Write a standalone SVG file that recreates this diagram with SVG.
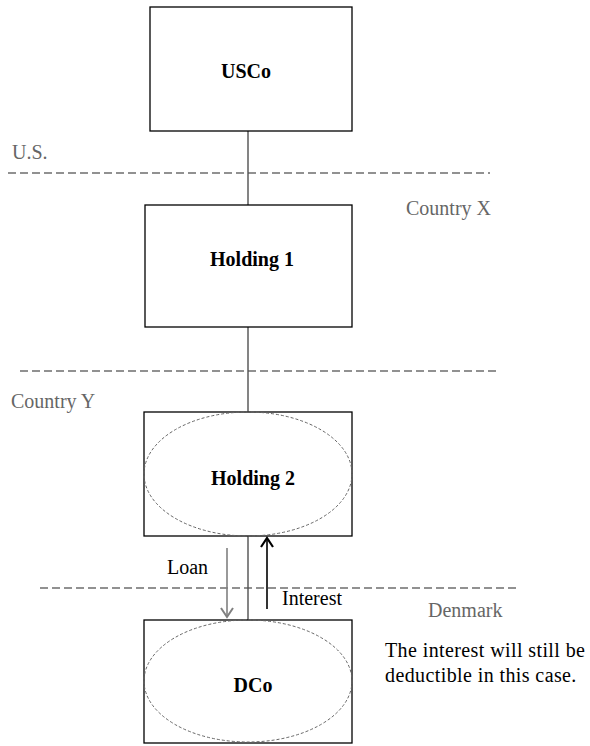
<svg xmlns="http://www.w3.org/2000/svg" width="590" height="746" viewBox="0 0 590 746">
  <style>
    .box { fill: #fff; stroke: #000; stroke-width: 1.3; }
    .oval { fill: none; stroke: #666; stroke-width: 1; stroke-dasharray: 3 2; }
    .name { font-family: "Liberation Serif", "Times New Roman", serif; font-size: 20px; font-weight: bold; fill: #000; text-anchor: middle; }
    .zone { font-family: "Liberation Serif", "Times New Roman", serif; font-size: 20px; fill: #666; }
    .label { font-family: "Liberation Serif", "Times New Roman", serif; font-size: 20px; fill: #000; }
    .note { letter-spacing: 0.4px; }
    .border { stroke: #6e6e6e; stroke-width: 1.5; stroke-dasharray: 8 4; fill: none; }
    .link { stroke: #505050; stroke-width: 1.4; fill: none; }
  </style>

  <!-- jurisdiction borders -->
  <g id="borders">
    <line class="border" x1="8" y1="173" x2="490" y2="173"/>
    <line class="border" x1="20" y1="371" x2="498" y2="371"/>
    <line class="border" x1="40" y1="588" x2="520" y2="588"/>
    <text class="zone" x="12" y="159">U.S.</text>
    <text class="zone" x="406" y="215">Country X</text>
    <text class="zone" x="11" y="408">Country Y</text>
    <text class="zone" x="428" y="617">Denmark</text>
  </g>

  <!-- ownership connectors and flows -->
  <g id="connectors">
    <line class="link" x1="248" y1="131" x2="248" y2="205"/>
    <line class="link" x1="248" y1="327" x2="248" y2="412"/>
    <line class="link" x1="248" y1="536" x2="248" y2="620"/>
    <!-- loan: Holding 2 to DCo -->
    <line x1="227" y1="548" x2="227" y2="617" stroke="#808080" stroke-width="1.6"/>
    <polyline points="221,608 227,617 233,608" fill="none" stroke="#808080" stroke-width="2"/>
    <!-- interest: DCo to Holding 2 -->
    <line x1="267" y1="609" x2="267" y2="538" stroke="#000" stroke-width="1.6"/>
    <polyline points="261,547 267,538 273,547" fill="none" stroke="#000" stroke-width="2.2"/>
    <text class="label" x="167" y="574">Loan</text>
    <text class="label" x="282" y="605">Interest</text>
  </g>

  <g id="usco">
    <rect class="box" x="150" y="7" width="202" height="124"/>
    <text class="name" x="246" y="78">USCo</text>
  </g>

  <g id="holding1">
    <rect class="box" x="145" y="205" width="207" height="122"/>
    <text class="name" x="252" y="266">Holding 1</text>
  </g>

  <g id="holding2">
    <rect class="box" x="144" y="412" width="208" height="124"/>
    <ellipse class="oval" cx="248" cy="474" rx="104" ry="62"/>
    <text class="name" x="253" y="485">Holding 2</text>
  </g>

  <g id="dco">
    <rect class="box" x="144" y="620" width="208" height="123"/>
    <ellipse class="oval" cx="248" cy="681" rx="104" ry="61"/>
    <text class="name" x="253" y="692">DCo</text>
  </g>

  <g id="note">
    <text class="label note" x="385" y="657">The interest will still be</text>
    <text class="label note" x="385" y="682">deductible in this case.</text>
  </g>
</svg>
